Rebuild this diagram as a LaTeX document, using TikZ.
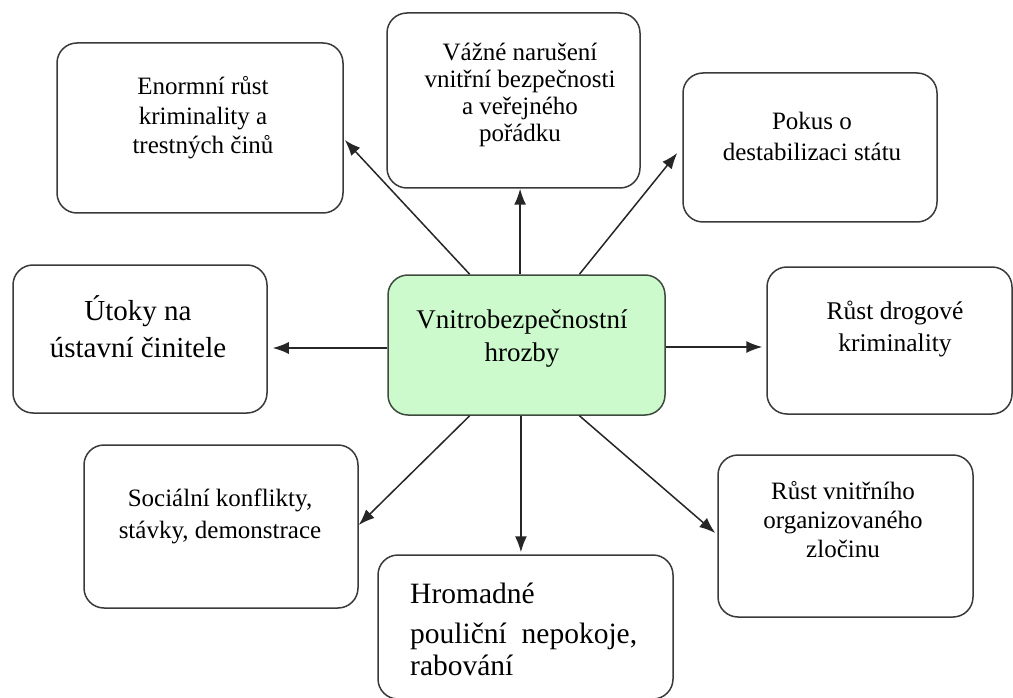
\documentclass[tikz,border=0pt]{standalone}
\usepackage{fontspec}
\setmainfont{Liberation Serif}
\usetikzlibrary{calc,arrows.meta}
\definecolor{boxline}{HTML}{3A3A3A}
\definecolor{corefill}{HTML}{CCFACC}
\definecolor{coreline}{HTML}{3E4A3E}
\definecolor{arrowline}{HTML}{262626}
\begin{document}
\begin{tikzpicture}[x=1pt,y=-1pt,
  box/.style={draw=boxline,line width=1.5pt,rounded corners=20pt,fill=white,inner sep=0pt},
  core/.style={box,fill=corefill,draw=coreline},
  txt/.style={align=center,inner sep=0pt,text=black},
  link/.style={draw=arrowline,line width=1.5pt,-{Latex[length=16pt,width=12pt]}}]

% canvas
\useasboundingbox[fill=white] (0,0) rectangle (1013,698);

% frames
\node[box,minimum width=286pt,minimum height=170pt] (tl) at (200,128) {};
\node[box,minimum width=253pt,minimum height=175pt] (tc) at (513.5,100.5) {};
\node[box,minimum width=254pt,minimum height=149pt] (tr) at (810,147.5) {};
\node[box,minimum width=254pt,minimum height=148pt] (l)  at (140,339) {};
\node[core,minimum width=277pt,minimum height=140pt] (c) at (526.5,345) {};
\node[box,minimum width=245pt,minimum height=147pt] (r)  at (889.5,340.5) {};
\node[box,minimum width=274pt,minimum height=163pt] (bl) at (221,526.5) {};
\node[box,minimum width=295pt,minimum height=144pt] (b)  at (525.5,627) {};
\node[box,minimum width=255pt,minimum height=162pt] (br) at (845.5,536) {};

% captions
\node[txt,font=\fontsize{25}{29.5}\selectfont] (tl-t) at (203,118)
  {Enormní růst\\kriminality a\\trestných činů};
\node[txt,font=\fontsize{25}{26.7}\selectfont] (tc-t) at (520,95)
  {Vážné narušení\\vnitřní bezpečnosti\\a veřejného\\pořádku};
\node[txt,font=\fontsize{25}{31}\selectfont] (tr-t) at (812,136.5)
  {Pokus o\\destabilizaci státu};
\node[txt,font=\fontsize{29}{37}\selectfont] (l-t) at (138,326.5)
  {Útoky na\\ústavní činitele};
\node[txt,font=\fontsize{27}{33}\selectfont] (c-t) at (522,338.5)
  {Vnitrobezpečnostní\\hrozby};
\node[txt,font=\fontsize{25.5}{32}\selectfont] (r-t) at (895,329)
  {Růst drogové\\kriminality};
\node[txt,font=\fontsize{25}{32}\selectfont] (bl-t) at (220,516)
  {Sociální konflikty,\\stávky, demonstrace};
\node[txt,font=\fontsize{25}{29}\selectfont] (br-t) at (843,520)
  {Růst vnitřního\\organizovaného\\zločinu};
\node[txt,align=left,anchor=west,font=\fontsize{29.5}{36}\selectfont] (b-t) at (410,629)
  {Hromadné\\[4pt]pouliční\ \ nepokoje,\\[-4pt]rabování};

% connectors from the central threat
\draw[link] ($(c.north west)!0.296!(c.north east)$) -- ($(tl.east)+(1,12)$);
\draw[link] ($(c.north west)!0.477!(c.north east)$) coordinate (up) -- (up |- tc.south);
\draw[link] ($(c.north west)!0.69!(c.north east)$) -- ($(tr.west)+(-5,5.5)$);
\draw[link] ($(c.west)+(0,3)$) -- ($(l.east)+(5,9)$);
\draw[link] ($(c.east)+(0,2)$) -- ($(r.west)+(-4,6.5)$);
\draw[link] ($(c.south west)!0.296!(c.south east)$) -- ($(bl.east)+(0,-1.5)$);
\draw[link] ($(c.south west)!0.48!(c.south east)$) coordinate (down) -- ($(down |- b.north)+(0,-2)$);
\draw[link] ($(c.south west)!0.69!(c.south east)$) -- ($(br.west)+(-2,-3)$);
\end{tikzpicture}
\end{document}
